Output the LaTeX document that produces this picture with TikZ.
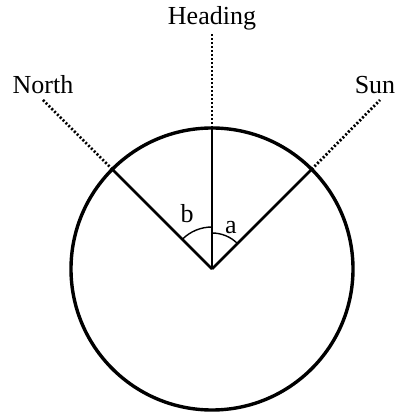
\documentclass[tikz,border=0pt]{standalone}
\usepackage{fontspec}
\setmainfont{Liberation Serif}
\usetikzlibrary{calc}
\begin{document}
\begin{tikzpicture}[x=1pt,y=1pt,
  lbl/.style={font=\fontsize{26}{28}\selectfont, inner sep=0pt},
  ray/.style={line width=2.5pt},
  dotline/.style={line width=2.8pt, dash pattern=on 2pt off 2pt},
  anglearc/.style={line width=1.4pt}]
\useasboundingbox (0,0) rectangle (400,412);
\coordinate (C) at (212,143);
\draw[line width=3.4pt] (C) circle (141);
\coordinate (Htop) at ($(C)+(90:141)$);
\coordinate (Ntop) at ($(C)+(135:141)$);
\coordinate (Stop) at ($(C)+(45:141)$);
\coordinate (Hend) at (212,379);
\coordinate (Nend) at (43,312);
\coordinate (Send) at (380,312);
\node[lbl] (heading) at (212,394) {Heading};
\node[lbl] (north) at (43,327) {North};
\node[lbl] (sun) at (375,327) {Sun};
\draw[ray] (C) -- (Htop);
\draw[ray] (C) -- (Ntop);
\draw[ray] (C) -- (Stop);
\draw[dotline] (Htop) -- (Hend);
\draw[dotline] (Ntop) -- (Nend);
\draw[dotline] (Stop) -- (Send);
\draw[anglearc] ($(C)+(90:42)$) arc (90:135:42);
\draw[anglearc] ($(C)+(45:36)$) arc (45:90:36);
\node[lbl] (b) at (187,198) {b};
\node[lbl] (a) at (231,184) {a};
\end{tikzpicture}
\end{document}
